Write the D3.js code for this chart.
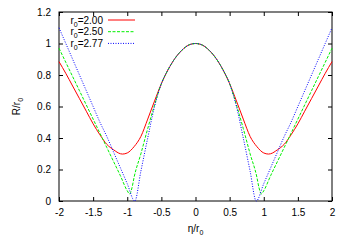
<!DOCTYPE html>
<html>
<head>
<meta charset="utf-8">
<script src="https://cdn.jsdelivr.net/npm/d3@7"></script>
<style>
  body { margin: 0; background: #fff; }
  text { font-family: "Liberation Sans", Arial, sans-serif; }
</style>
</head>
<body>
<div id="chart"></div>
<script>
// eta/r0 samples (right half; curves are mirrored on the left)
var etaRed   = [0, 0.1, 0.2, 0.3, 0.4, 0.5, 0.6, 0.7, 0.8, 0.9, 1.0, 1.07, 1.1, 1.2, 1.3, 1.4, 1.5, 1.6, 1.7, 1.8, 1.9, 2.0];
var valRed   = [1.0, 0.99, 0.957, 0.906, 0.835, 0.745, 0.635, 0.52, 0.41, 0.345, 0.305, 0.298, 0.30, 0.325, 0.36, 0.42, 0.49, 0.57, 0.65, 0.73, 0.81, 0.885];

var etaGreen = [0, 0.1, 0.2, 0.3, 0.4, 0.5, 0.6, 0.7, 0.8, 0.9, 0.93, 0.965, 1.0, 1.1, 1.2, 1.3, 1.4, 1.5, 1.6, 1.7, 1.8, 1.9, 2.0];
var valGreen = [1.0, 0.99, 0.957, 0.906, 0.835, 0.745, 0.61, 0.46, 0.30, 0.15, 0.085, 0.045, 0.065, 0.16, 0.25, 0.34, 0.43, 0.52, 0.61, 0.70, 0.79, 0.88, 0.97];

var etaBlue  = [0, 0.1, 0.2, 0.3, 0.4, 0.5, 0.6, 0.7, 0.8, 0.89, 1.0, 1.1, 1.2, 1.3, 1.4, 1.5, 1.6, 1.7, 1.8, 1.9, 2.0];
var valBlue  = [1.0, 0.99, 0.957, 0.906, 0.835, 0.745, 0.60, 0.40, 0.19, 0.0, 0.11, 0.21, 0.31, 0.41, 0.50, 0.60, 0.70, 0.80, 0.90, 1.00, 1.10];

var seriesNames = ["2.00", "2.50", "2.77"];
var xTicks = [-2, -1.5, -1, -0.5, 0, 0.5, 1, 1.5, 2];
var yTicks = [0, 0.2, 0.4, 0.6, 0.8, 1, 1.2];

function mirror(etas, vals) {
  var pts = [];
  for (var i = etas.length - 1; i > 0; i--) pts.push([-etas[i], vals[i]]);
  for (var j = 0; j < etas.length; j++) pts.push([etas[j], vals[j]]);
  return pts;
}

var series = [
  {name: seriesNames[0], color: "#ff0000", dash: null, pts: mirror(etaRed, valRed)},
  {name: seriesNames[1], color: "#00f000", dash: "3,1.5", pts: mirror(etaGreen, valGreen)},
  {name: seriesNames[2], color: "#0000ff", dash: "1,1.5", pts: mirror(etaBlue, valBlue)}
];

var W = 346, H = 242;
var margin = {top: 12, right: 14, bottom: 41, left: 59},
  width = W - margin.left - margin.right,
  height = H - margin.top - margin.bottom;

var svg = d3.select("#chart")
.append("svg")
  .attr("width", W)
  .attr("height", H)
.append("g")
  .attr("transform", "translate(" + margin.left + "," + margin.top + ")");

var x = d3.scaleLinear().domain([-2, 2]).range([0, width]);
var y = d3.scaleLinear().domain([0, 1.2]).range([height, 0]);

var fmt = function(d) { return String(+d.toFixed(1)); };

// axes with inward ticks, mirrored on top/right
var tk = 4;
svg.append("g")
  .attr("transform", "translate(0," + height + ")")
  .call(d3.axisBottom(x).tickValues(xTicks).tickSizeInner(-tk).tickSizeOuter(0).tickPadding(8).tickFormat(fmt));
svg.append("g")
  .call(d3.axisTop(x).tickValues(xTicks).tickSizeInner(-tk).tickSizeOuter(0).tickFormat(""));
svg.append("g")
  .call(d3.axisLeft(y).tickValues(yTicks).tickSizeInner(-tk).tickSizeOuter(0).tickPadding(8).tickFormat(fmt));
svg.append("g")
  .attr("transform", "translate(" + width + ",0)")
  .call(d3.axisRight(y).tickValues(yTicks).tickSizeInner(-tk).tickSizeOuter(0).tickFormat(""));

svg.selectAll(".domain").remove();
svg.selectAll(".tick text").attr("font-size", 10).attr("fill", "#000")
  .style("font-family", "'Liberation Sans', Arial, sans-serif");
svg.selectAll(".tick line").attr("stroke", "#000");

svg.append("rect")
  .attr("width", width).attr("height", height)
  .attr("fill", "none").attr("stroke", "#000").attr("stroke-width", 1);

var line = d3.line()
  .x(function(d) { return x(d[0]); })
  .y(function(d) { return y(d[1]); })
  .curve(d3.curveMonotoneX);

svg.selectAll(".curve")
  .data(series)
  .enter()
  .append("path")
  .attr("class", "curve")
  .attr("d", function(d) { return line(d.pts); })
  .attr("fill", "none")
  .attr("stroke", function(d) { return d.color; })
  .attr("stroke-width", 1)
  .attr("stroke-dasharray", function(d) { return d.dash; });

// legend
var leg = svg.append("g").attr("transform", "translate(0,0)");
series.forEach(function(s, i) {
  var yy = 8 + i * 11.7;
  var t = leg.append("text")
    .attr("x", 44).attr("y", yy + 3.5)
    .attr("text-anchor", "end")
    .attr("font-size", 10);
  t.append("tspan").text("r");
  t.append("tspan").attr("font-size", 7).attr("dy", 3).text("0");
  t.append("tspan").attr("dy", -3).text("=" + s.name);
  leg.append("line")
    .attr("x1", 49).attr("x2", 76)
    .attr("y1", yy).attr("y2", yy)
    .attr("stroke", s.color)
    .attr("stroke-width", 1)
    .attr("stroke-dasharray", s.dash);
});

// axis labels
var xl = svg.append("text")
  .attr("x", width / 2).attr("y", height + 31)
  .attr("text-anchor", "middle").attr("font-size", 10);
xl.append("tspan").text("\u03b7/r");
xl.append("tspan").attr("font-size", 7).attr("dy", 3).text("0");

var yl = svg.append("text")
  .attr("transform", "translate(" + (-39) + "," + (height / 2) + ") rotate(-90)")
  .attr("text-anchor", "middle").attr("font-size", 10);
yl.append("tspan").text("R/r");
yl.append("tspan").attr("font-size", 7).attr("dy", 3).text("0");
</script>
</body>
</html>
